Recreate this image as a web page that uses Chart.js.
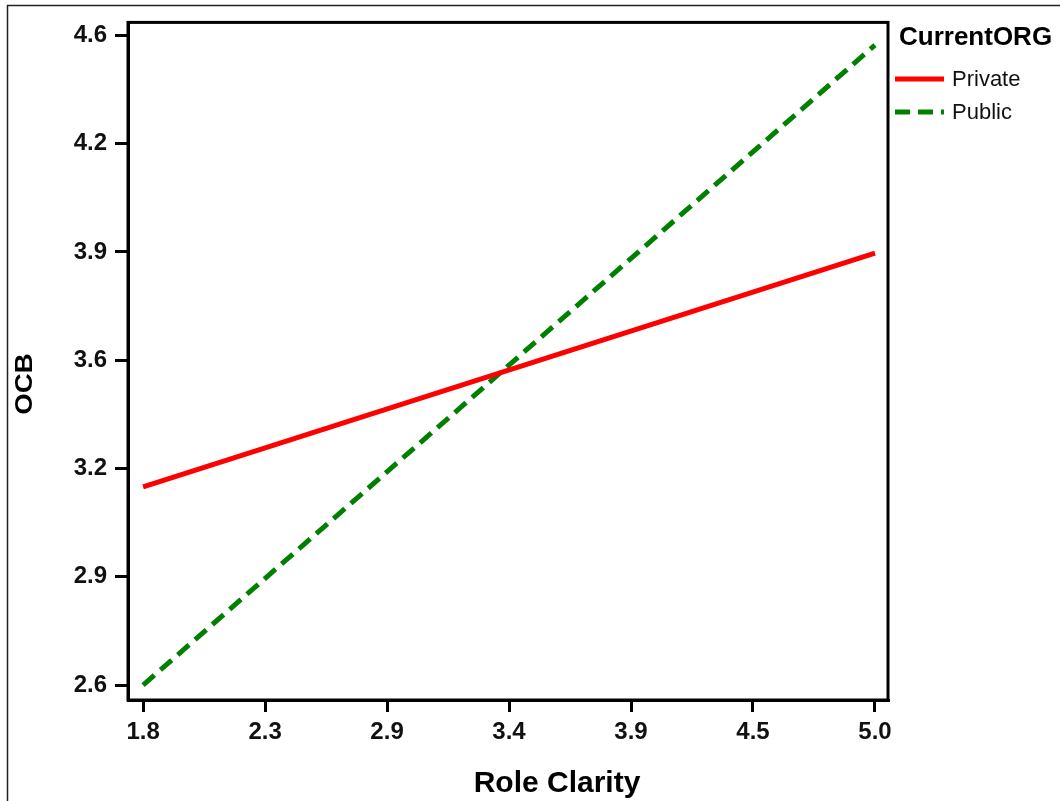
<!DOCTYPE html>
<html>
<head>
<meta charset="utf-8">
<script src="https://cdn.jsdelivr.net/npm/chart.js@4.4.1/dist/chart.umd.min.js"></script>
<style>
  html, body { margin: 0; padding: 0; background: #fff; }
</style>
</head>
<body>
<canvas id="grafico" width="1060" height="801"></canvas>
<script>
// datos
const roleClarity = [1.8, 5.0];
const privateOCB = [3.21, 3.93];
const publicOCB = [2.60, 4.57];
const seriesNames = ['Private', 'Public'];
const legendTitle = 'CurrentORG';
const xTickLabels = ['1.8', '2.3', '2.9', '3.4', '3.9', '4.5', '5.0'];
const yTickLabels = ['2.6', '2.9', '3.2', '3.6', '3.9', '4.2', '4.6'];

const FONT = '"Liberation Sans", Arial, sans-serif';

// ticks igualmente espaciados entre la primera y la ultima etiqueta
function setTicks(labels) {
  return scale => {
    const a = parseFloat(labels[0]);
    const b = parseFloat(labels[labels.length - 1]);
    scale.ticks = labels.map((l, i) => ({ value: a + i * (b - a) / (labels.length - 1) }));
  };
}

const toPoints = (xs, ys) => xs.map((x, i) => ({ x: x, y: ys[i] }));

const extras = {
  id: 'extras',
  afterDraw(chart) {
    const { ctx, chartArea: ca } = chart;
    ctx.save();
    // marco exterior
    ctx.strokeStyle = '#222';
    ctx.lineWidth = 1.5;
    ctx.strokeRect(7.5, 5.5, 1070, 810);
    // caja del area de trazado
    ctx.strokeStyle = '#000';
    ctx.lineWidth = 3;
    ctx.strokeRect(ca.left, ca.top, ca.right - ca.left, ca.bottom - ca.top);

    // titulos de ejes
    ctx.fillStyle = '#000';
    ctx.font = 'bold 30px ' + FONT;
    ctx.textAlign = 'center';
    ctx.textBaseline = 'middle';
    ctx.fillText('Role Clarity', (ca.left + ca.right) / 2 + 49, 784);

    ctx.save();
    ctx.translate(25, 384);
    ctx.rotate(-Math.PI / 2);
    ctx.scale(1.2, 1);
    ctx.font = 'bold 23px ' + FONT;
    ctx.fillText('OCB', 0, 1);
    ctx.restore();

    // leyenda
    ctx.textAlign = 'left';
    ctx.font = 'bold 26px ' + FONT;
    ctx.fillText(legendTitle, 899, 38);
    ctx.font = '22px ' + FONT;
    chart.data.datasets.forEach((ds, i) => {
      const y = 79 + i * 33;
      ctx.strokeStyle = ds.borderColor;
      ctx.lineWidth = ds.borderWidth;
      ctx.setLineDash(ds.borderDash || []);
      ctx.beginPath();
      ctx.moveTo(895, y);
      ctx.lineTo(944, y);
      ctx.stroke();
      ctx.setLineDash([]);
      ctx.fillStyle = '#111';
      ctx.fillText(ds.label, 952, y + 1);
    });
    ctx.restore();
  }
};

new Chart(document.getElementById('grafico'), {
  type: 'line',
  data: {
    datasets: [{
      label: seriesNames[0],
      data: toPoints(roleClarity, privateOCB),
      borderColor: '#ff0000',
      borderWidth: 5,
      pointRadius: 0,
      fill: false
    }, {
      label: seriesNames[1],
      data: toPoints(roleClarity, publicOCB),
      borderColor: '#008000',
      borderWidth: 5,
      borderDash: [15, 8],
      pointRadius: 0,
      fill: false
    }]
  },
  options: {
    responsive: false,
    animation: false,
    devicePixelRatio: 1,
    layout: { padding: { left: 0, right: 172, top: 21, bottom: 0 } },
    plugins: { legend: { display: false }, tooltip: { enabled: false } },
    scales: {
      x: {
        type: 'linear',
        min: 1.734,
        max: 5.057,
        afterFit: s => { s.height = 101; },
        afterBuildTicks: setTicks(xTickLabels),
        grid: { drawOnChartArea: false, drawTicks: true, tickLength: 12, lineWidth: 3, color: '#000' },
        border: { color: '#000', width: 3 },
        ticks: {
          autoSkip: false,
          maxRotation: 0,
          padding: 6,
          color: '#111',
          font: { family: FONT, size: 24, weight: 'bold' },
          callback: (v, i) => xTickLabels[i]
        }
      },
      y: {
        type: 'linear',
        min: 2.554,
        max: 4.64,
        afterFit: s => { s.width = 128; },
        afterBuildTicks: setTicks(yTickLabels),
        grid: { drawOnChartArea: false, drawTicks: true, tickLength: 13, lineWidth: 3, color: '#000' },
        border: { color: '#000', width: 3 },
        ticks: {
          autoSkip: false,
          padding: 8,
          color: '#111',
          font: { family: FONT, size: 24, weight: 'bold' },
          callback: (v, i) => yTickLabels[i]
        }
      }
    }
  },
  plugins: [extras]
});
</script>
</body>
</html>
